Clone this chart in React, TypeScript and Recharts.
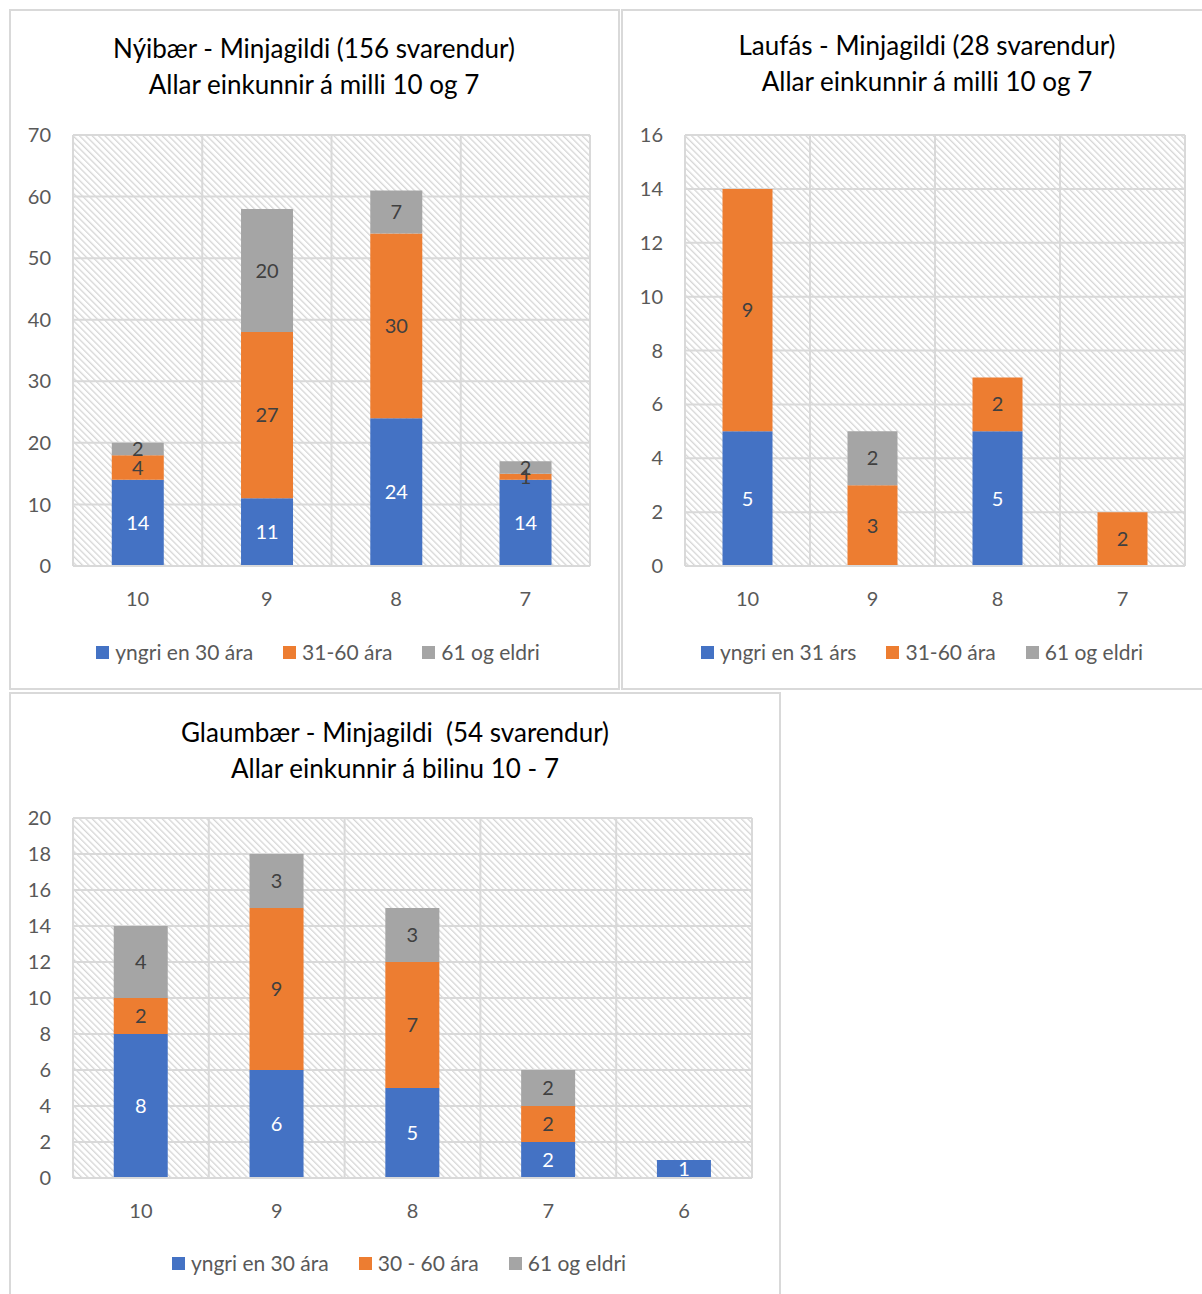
import { BarChart, Bar, XAxis, YAxis, CartesianGrid, LabelList } from "recharts";

// Nýibær
const nyibaerGrades = ["10", "9", "8", "7"];
const nyibaerYoung = [14, 11, 24, 14];
const nyibaerMid = [4, 27, 30, 1];
const nyibaerOld = [2, 20, 7, 2];
const nyibaerTicks = [0, 10, 20, 30, 40, 50, 60, 70];
const nyibaerLegend = ["yngri en 30 ára", "31-60 ára", "61 og eldri"];

// Laufás
const laufasGrades = ["10", "9", "8", "7"];
const laufasYoung = [5, 0, 5, 0];
const laufasMid = [9, 3, 2, 2];
const laufasOld = [0, 2, 0, 0];
const laufasTicks = [0, 2, 4, 6, 8, 10, 12, 14, 16];
const laufasLegend = ["yngri en 31 árs", "31-60 ára", "61 og eldri"];

// Glaumbær
const glaumbaerGrades = ["10", "9", "8", "7", "6"];
const glaumbaerYoung = [8, 6, 5, 2, 1];
const glaumbaerMid = [2, 9, 7, 2, 0];
const glaumbaerOld = [4, 3, 3, 2, 0];
const glaumbaerTicks = [0, 2, 4, 6, 8, 10, 12, 14, 16, 18, 20];
const glaumbaerLegend = ["yngri en 30 ára", "30 - 60 ára", "61 og eldri"];

const COLORS = ["#4472C4", "#ED7D31", "#A5A5A5"];
const FONT = "Lato, 'Noto Sans', sans-serif";
const GRID = "#d9d9d9";

const hideZero = (v: any) => (v ? v : "");

interface PanelProps {
  id: string;
  grades: string[];
  young: number[];
  mid: number[];
  old: number[];
  ticks: number[];
  legend: string[];
  title: string[];
  titleX: number;
  legendX: number;
  box: { left: number; top: number; width: number; height: number };
  chart: { left: number; top: number; width: number; height: number; right: number; xHeight: number };
  titleTop: number;
  legendTop: number;
}

function Panel(p: PanelProps) {
  const data = p.grades.map((g, i) => ({
    grade: g,
    young: p.young[i],
    mid: p.mid[i],
    old: p.old[i],
  }));
  const n = p.grades.length;
  const keys = ["young", "mid", "old"];
  return (
    <>
      <div
        style={{
          position: "absolute",
          left: p.box.left,
          top: p.box.top,
          width: p.box.width,
          height: p.box.height,
          border: `2px solid ${GRID}`,
          boxSizing: "border-box",
          background: "#fff",
        }}
      />
      <div
        style={{
          position: "absolute",
          left: p.titleX - 300,
          width: 600,
          top: p.titleTop,
          textAlign: "center",
          fontFamily: FONT,
          fontSize: 26,
          lineHeight: "36px",
          color: "#000",
        }}
      >
        {p.title.map((t) => (
          <div key={t} style={{ whiteSpace: "pre" }}>{t}</div>
        ))}
      </div>
      <div style={{ position: "absolute", left: p.chart.left, top: p.chart.top }}>
        <BarChart
          width={p.chart.width}
          height={p.chart.height}
          data={data}
          margin={{ top: 124, right: p.chart.right, left: 0, bottom: 0 }}
          barCategoryGap="30%"
        >
          <defs>
            <pattern
              id={p.id}
              width="4.5"
              height="4.5"
              patternUnits="userSpaceOnUse"
              patternTransform="rotate(-45)"
            >
              <rect x="0" y="0" width="4.5" height="4.5" fill="#fff" />
              <rect x="0" y="0" width="1.3" height="4.5" fill="#d6d6d6" />
            </pattern>
          </defs>
          <CartesianGrid
            fill={`url(#${p.id})`}
            stroke={GRID}
            strokeWidth={2}
            verticalCoordinatesGenerator={({ offset }: any) =>
              Array.from({ length: n + 1 }, (_, i) => offset.left + (offset.width * i) / n)
            }
          />
          <XAxis
            dataKey="grade"
            height={p.chart.xHeight}
            axisLine={{ stroke: GRID, strokeWidth: 2 }}
            tickLine={false}
            tickSize={0}
            tickMargin={26}
            tick={{ fontSize: 20, fill: "#595959", fontFamily: FONT }}
          />
          <YAxis
            width={62}
            domain={[p.ticks[0], p.ticks[p.ticks.length - 1]]}
            ticks={p.ticks}
            interval={0}
            axisLine={false}
            tickLine={false}
            tickSize={0}
            tickMargin={22}
            tick={{ fontSize: 20, fill: "#595959", fontFamily: FONT }}
          />
          {keys.map((k, i) => (
            <Bar key={k} dataKey={k} stackId="a" fill={COLORS[i]} isAnimationActive={false}>
              <LabelList
                dataKey={k}
                position="center"
                formatter={hideZero}
                style={{ fontSize: 20, fontFamily: FONT }}
                fill={i === 0 ? "#ffffff" : "#404040"}
              />
            </Bar>
          ))}
        </BarChart>
      </div>
      <div
        style={{
          position: "absolute",
          left: p.legendX - 300,
          width: 600,
          top: p.legendTop,
          display: "flex",
          justifyContent: "center",
          gap: 30,
          fontFamily: FONT,
          fontSize: 21,
          color: "#595959",
          lineHeight: "24px",
        }}
      >
        {p.legend.map((name, i) => (
          <div key={name} style={{ display: "flex", alignItems: "center" }}>
            <span
              style={{ width: 13, height: 13, background: COLORS[i], marginRight: 6, display: "inline-block" }}
            />
            <span>{name}</span>
          </div>
        ))}
      </div>
    </>
  );
}

export default function App() {
  return (
    <div style={{ position: "absolute", left: 0, top: 0, width: 1202, height: 1294, background: "#fff", overflow: "hidden" }}>
      <Panel
        id="hatch1"
        grades={nyibaerGrades}
        young={nyibaerYoung}
        mid={nyibaerMid}
        old={nyibaerOld}
        ticks={nyibaerTicks}
        legend={nyibaerLegend}
        title={["Nýibær - Minjagildi (156 svarendur)", "Allar einkunnir á milli 10 og 7"]}
        titleX={314}
        titleTop={30}
        legendX={318}
        legendTop={640}
        box={{ left: 9, top: 9, width: 611, height: 681 }}
        chart={{ left: 11, top: 11, width: 606, height: 676, right: 27, xHeight: 121 }}
      />
      <Panel
        id="hatch2"
        grades={laufasGrades}
        young={laufasYoung}
        mid={laufasMid}
        old={laufasOld}
        ticks={laufasTicks}
        legend={laufasLegend}
        title={["Laufás - Minjagildi (28 svarendur)", "Allar einkunnir á milli 10 og 7"]}
        titleX={927}
        titleTop={27}
        legendX={922}
        legendTop={640}
        box={{ left: 621, top: 9, width: 600, height: 681 }}
        chart={{ left: 623, top: 11, width: 579, height: 676, right: 17, xHeight: 121 }}
      />
      <Panel
        id="hatch3"
        grades={glaumbaerGrades}
        young={glaumbaerYoung}
        mid={glaumbaerMid}
        old={glaumbaerOld}
        ticks={glaumbaerTicks}
        legend={glaumbaerLegend}
        title={["Glaumbær - Minjagildi  (54 svarendur)", "Allar einkunnir á bilinu 10 - 7"]}
        titleX={395}
        titleTop={714}
        legendX={399}
        legendTop={1251}
        box={{ left: 9, top: 692, width: 772, height: 620 }}
        chart={{ left: 11, top: 694, width: 768, height: 598, right: 27, xHeight: 114 }}
      />
    </div>
  );
}
